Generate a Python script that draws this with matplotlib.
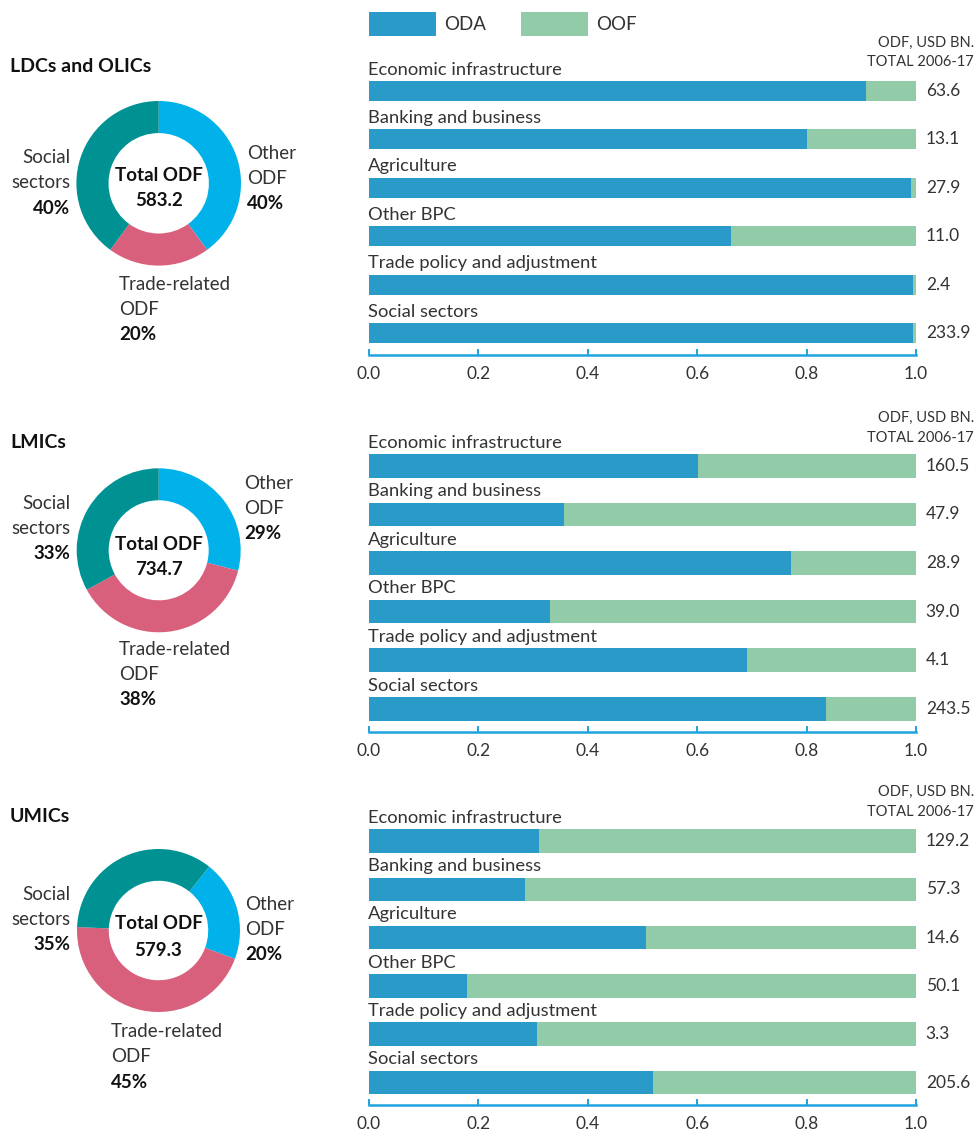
import matplotlib
matplotlib.use("Agg")
import matplotlib.pyplot as plt
from matplotlib.patches import Rectangle

plt.rcParams['font.family'] = ['Lato', 'DejaVu Sans']

# ---------------- data ----------------
groups = ["LDCs and OLICs", "LMICs", "UMICs"]
categories = ["Economic infrastructure", "Banking and business", "Agriculture",
              "Other BPC", "Trade policy and adjustment", "Social sectors"]

oda_share_ldc = [0.908, 0.800, 0.990, 0.661, 0.995, 0.995]
oda_share_lmic = [0.601, 0.356, 0.771, 0.331, 0.691, 0.835]
oda_share_umic = [0.311, 0.285, 0.506, 0.179, 0.307, 0.520]

total_odf_ldc = [63.6, 13.1, 27.9, 11.0, 2.4, 233.9]
total_odf_lmic = [160.5, 47.9, 28.9, 39.0, 4.1, 243.5]
total_odf_umic = [129.2, 57.3, 14.6, 50.1, 3.3, 205.6]

donut_labels = ["Other\nODF", "Trade-related\nODF", "Social\nsectors"]
donut_share_ldc = [40, 20, 40]
donut_share_lmic = [29, 38, 33]
donut_share_umic = [20, 45, 35]
donut_total = [583.2, 734.7, 579.3]

x_ticks = [0.0, 0.2, 0.4, 0.6, 0.8, 1.0]
legend_labels = ["ODA", "OOF"]
header_text = "ODF, USD BN.\nTOTAL 2006-17"

oda_shares = [oda_share_ldc, oda_share_lmic, oda_share_umic]
odf_totals = [total_odf_ldc, total_odf_lmic, total_odf_umic]
donut_shares = [donut_share_ldc, donut_share_lmic, donut_share_umic]

# ---------------- styles ----------------
C_ODA = "#2a9bc8"
C_OOF = "#92cba8"
C_AXIS = "#1fa3e0"
DONUT_COLORS = ["#00b2e9", "#d9607c", "#009293"]
TXT = "#333333"
BOLD = "#111111"
FW = 'normal'

W, H = 977, 1134
fig = plt.figure(figsize=(W / 100, H / 100), dpi=100)


def fx(x):
    return x / W


def fy(y):
    return 1 - y / H


def ptext(x, y, s, **kw):
    fig.text(fx(x), fy(y), s, **kw)


# layout per panel (pixels)
layout = [
    dict(title_y=67, dc=(158.7, 183.3), r=82.3, start=90,
         first=91.0, step=48.4, axis=355.0, barh=20.0, head=(42.7, 62.5),
         tot=(0.10, -0.21),
         lab=[(247, 153.3, 'left'), (119, 284.3, 'left'), (70, 157.7, 'right')]),
    dict(title_y=443, dc=(158.7, 550.3), r=82.0, start=90,
         first=465.8, step=48.6, axis=732.3, barh=23.7, head=(417.5, 438.3),
         tot=(0.07, -0.24),
         lab=[(244, 483.3, 'left'), (119, 649.3, 'left'), (70, 503.3, 'right')]),
    dict(title_y=816, dc=(158.5, 930.5), r=81.5, start=51.6,
         first=841.0, step=48.3, axis=1105.0, barh=23.5, head=(791.5, 812.3),
         tot=(0.08, -0.25),
         lab=[(245.5, 904, 'left'), (111, 1031.7, 'left'), (70, 894.3, 'right')]),
]

BAR_L, BAR_R = 369.0, 916.0
LINE = 25.3

for gi, g in enumerate(groups):
    L = layout[gi]
    # ---- title ----
    ptext(10, L['title_y'], g, fontsize=14, fontweight='bold', color=BOLD,
          ha='left', va='center')

    # ---- donut ----
    cx, cy = L['dc']
    r = L['r']
    dax = fig.add_axes([fx(cx - r), fy(cy + r), 2 * r / W, 2 * r / H])
    dax.pie(donut_shares[gi], colors=DONUT_COLORS, startangle=L['start'],
            counterclock=False, radius=1.0,
            wedgeprops=dict(width=0.39, edgecolor='none', linewidth=0))
    dax.set_xlim(-1, 1)
    dax.set_ylim(-1, 1)
    dax.set_aspect('equal')
    dax.axis('off')
    dax.text(0, L['tot'][0], "Total ODF", ha='center', va='center',
             fontsize=13.5, fontweight='bold', color=BOLD)
    dax.text(0, L['tot'][1], f"{donut_total[gi]:.1f}", ha='center', va='center',
             fontsize=13.5, fontweight='bold', color=BOLD)

    for li, lab in enumerate(donut_labels):
        x0, y0, ha = L['lab'][li]
        lines = lab.split("\n")
        for k, line in enumerate(lines):
            ptext(x0, y0 + k * LINE, line, fontsize=13.5, fontweight=FW,
                  color=TXT, ha=ha, va='center')
        ptext(x0, y0 + len(lines) * LINE, f"{donut_shares[gi][li]}%",
              fontsize=13.5, fontweight='bold', color=BOLD, ha=ha, va='center')

    # ---- stacked bars ----
    first, step, axis_px = L['first'], L['step'], L['axis']
    n = len(categories)
    last = first + (n - 1) * step
    top_px = first - step * 0.75
    ax = fig.add_axes([fx(BAR_L), fy(axis_px), (BAR_R - BAR_L) / W,
                       (axis_px - top_px) / H])
    rows = list(range(n))
    bh = L['barh'] / step
    oda = oda_shares[gi]
    oof = [1 - v for v in oda]
    ax.barh(rows, oda, height=bh, color=C_ODA, linewidth=0)
    ax.barh(rows, oof, left=oda, height=bh, color=C_OOF, linewidth=0)
    ax.set_xlim(0, 1)
    ax.set_ylim((n - 1) + (axis_px - last) / step, -(first - top_px) / step)
    for s in ['left', 'top', 'right']:
        ax.spines[s].set_visible(False)
    ax.spines['bottom'].set_color(C_AXIS)
    ax.spines['bottom'].set_linewidth(1.8)
    ax.set_yticks([])
    ax.set_xticks(x_ticks)
    ax.set_xticklabels([f"{t:.1f}" for t in x_ticks])
    ax.tick_params(axis='x', direction='in', length=4, width=1.4,
                   color=C_AXIS, labelsize=12.5, labelcolor=TXT, pad=8)
    for lbl in ax.get_xticklabels():
        lbl.set_fontweight(FW)
    ax.patch.set_alpha(0)

    for i, cat in enumerate(categories):
        ax.annotate(cat, xy=(0, i - bh / 2), xytext=(-1, 4.6),
                    textcoords='offset points', ha='left', va='baseline',
                    fontsize=13.2, fontweight=FW, color=TXT,
                    annotation_clip=False)
        ax.annotate(f"{odf_totals[gi][i]:.1f}", xy=(1, i), xytext=(7, 0),
                    textcoords='offset points', ha='left', va='center',
                    fontsize=12.5, fontweight=FW, color=TXT,
                    annotation_clip=False)

    # header
    h1, h2 = L['head']
    hl = header_text.split("\n")
    ptext(974, h1, hl[0], fontsize=10.5, fontweight=FW, color=TXT,
          ha='right', va='center')
    ptext(974, h2, hl[1], fontsize=10.5, fontweight=FW, color=TXT,
          ha='right', va='center')

# ---------------- legend ----------------
leg = [(369, 436, C_ODA, 444), (520.6, 587.6, C_OOF, 596)]
for (x0, x1, c, tx), lab in zip(leg, legend_labels):
    fig.add_artist(Rectangle((fx(x0), fy(35.7)), (x1 - x0) / W, 23.4 / H,
                             transform=fig.transFigure, color=c, lw=0))
    ptext(tx, 25, lab, fontsize=13.5, fontweight=FW, color=TXT,
          ha='left', va='center')

fig.savefig("out.png", dpi=100)
